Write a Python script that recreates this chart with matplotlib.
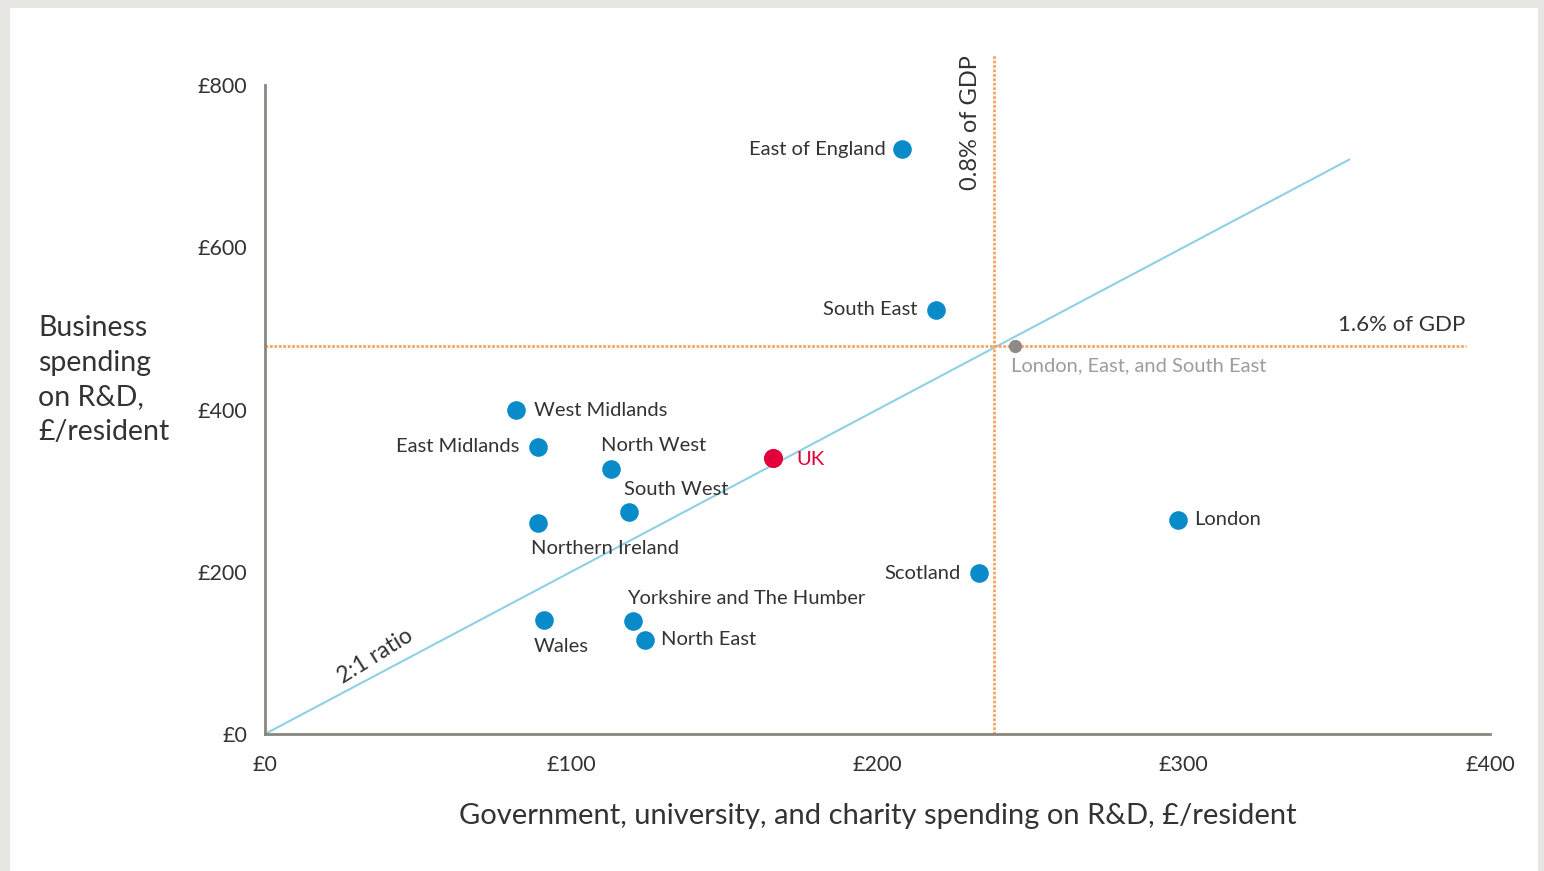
import matplotlib
matplotlib.use("Agg")
import matplotlib.pyplot as plt
from matplotlib.patches import Rectangle
import numpy as np

plt.rcParams['font.family'] = ['Lato', 'DejaVu Sans']

# regional R&D spending, £ per resident
regions = ["East of England", "South East", "West Midlands", "East Midlands",
           "North West", "South West", "Northern Ireland", "London", "Scotland",
           "Yorkshire and The Humber", "Wales", "North East"]
gov_spend = [208, 219, 82, 89, 113, 119, 89, 298, 233, 120, 91, 124]
biz_spend = [721, 523, 399, 354, 327, 274, 260, 264, 198, 139, 140, 116]

uk_gov, uk_biz = 166, 340
lese_gov, lese_biz = 245, 478

gdp08_gov = 238      # 0.8% of GDP
gdp16_biz = 478      # 1.6% of GDP
ratio_end = 354      # end of the 2:1 ratio line

# label offsets in points (dx, dy, ha)
offsets = {
    "East of England": (-12, 0, "right"),
    "South East": (-13, 0, "right"),
    "West Midlands": (13, 0, "left"),
    "East Midlands": (-13, 0, "right"),
    "North West": (-7, 16.5, "left"),
    "South West": (-4, 16, "left"),
    "Northern Ireland": (-5, -18, "left"),
    "London": (12, 0, "left"),
    "Scotland": (-13, 0, "right"),
    "Yorkshire and The Humber": (-4, 16.5, "left"),
    "Wales": (-7, -19, "left"),
    "North East": (12, 0, "left"),
}

blue = "#0a8bc9"
red = "#e4003b"
orange = "#f6a561"
txt = "#333333"
lab_fs = 14.5

fig = plt.figure(figsize=(15.44, 8.71), dpi=100)
fig.patch.set_facecolor("#e8e6e3")
fig.patches.append(Rectangle((10 / 1544, 0), 1528 / 1544, 1 - 8 / 871,
                             transform=fig.transFigure, facecolor="white",
                             edgecolor="none", zorder=-10))

ax = fig.add_axes([265 / 1544, 1 - 734 / 871, 1225 / 1544, 649 / 871])
ax.set_facecolor("none")
ax.set_xlim(0, 400)
ax.set_ylim(0, 800)

# reference lines
ax.plot([0, ratio_end], [0, 2 * ratio_end], color="#8fd0e6", lw=1.5, zorder=1)
ax.plot([0, 392], [gdp16_biz, gdp16_biz], color=orange, lw=2, ls=(0, (1, 0.6)),
        zorder=1, clip_on=False)
ax.plot([gdp08_gov, gdp08_gov], [0, 837], color=orange, lw=2, ls=(0, (1, 0.6)),
        zorder=1, clip_on=False)

ax.scatter(gov_spend, biz_spend, s=180, color=blue, zorder=3, linewidths=0)
ax.scatter([uk_gov], [uk_biz], s=190, color=red, zorder=3, linewidths=0)
ax.scatter([lese_gov], [lese_biz], s=90, color="#8e8a86", zorder=3, linewidths=0)

for name, gx, by in zip(regions, gov_spend, biz_spend):
    dx, dy, ha = offsets[name]
    ax.annotate(name, (gx, by), xytext=(dx, dy), textcoords="offset points",
                ha=ha, va="center", fontsize=lab_fs, color=txt)
ax.annotate("UK", (uk_gov, uk_biz), xytext=(16.5, -1), textcoords="offset points",
            ha="left", va="center", fontsize=lab_fs, color=red)
ax.annotate("London, East, and South East", (lese_gov, lese_biz), xytext=(-3, -14),
            textcoords="offset points", ha="left", va="center", fontsize=lab_fs,
            color="#a09c98")

ax.annotate("1.6% of GDP", (392, gdp16_biz), xytext=(0, 15), textcoords="offset points",
            ha="right", va="center", fontsize=16, color=txt, annotation_clip=False)
ax.annotate("0.8% of GDP", (gdp08_gov, 837), xytext=(-17, 0), textcoords="offset points",
            ha="center", va="top", rotation=90, fontsize=17, color=txt,
            annotation_clip=False)
ax.text(36, 96, "2:1 ratio", rotation=32, ha="center", va="center",
        fontsize=16.5, color=txt)

for s in ["top", "right"]:
    ax.spines[s].set_visible(False)
for s in ["left", "bottom"]:
    ax.spines[s].set_color("#8a8580")
    ax.spines[s].set_linewidth(2)

ax.set_xticks([0, 100, 200, 300, 400])
ax.set_xticklabels(["£0", "£100", "£200", "£300", "£400"])
ax.set_yticks([0, 200, 400, 600, 800])
ax.set_yticklabels(["£0", "£200", "£400", "£600", "£800"])
ax.tick_params(length=0, labelsize=15.5, colors=txt, pad=13)
ax.tick_params(axis="x", pad=15)

ax.set_xlabel("Government, university, and charity spending on R&D, £/resident",
              fontsize=21, color=txt, labelpad=20)
fig.text(38 / 1544, 1 - 380 / 871, "Business\nspending\non R&D,\n£/resident",
         ha="left", va="center", fontsize=20.5, color=txt, linespacing=1.4)

fig.savefig("out.png", dpi=100, facecolor=fig.get_facecolor())
